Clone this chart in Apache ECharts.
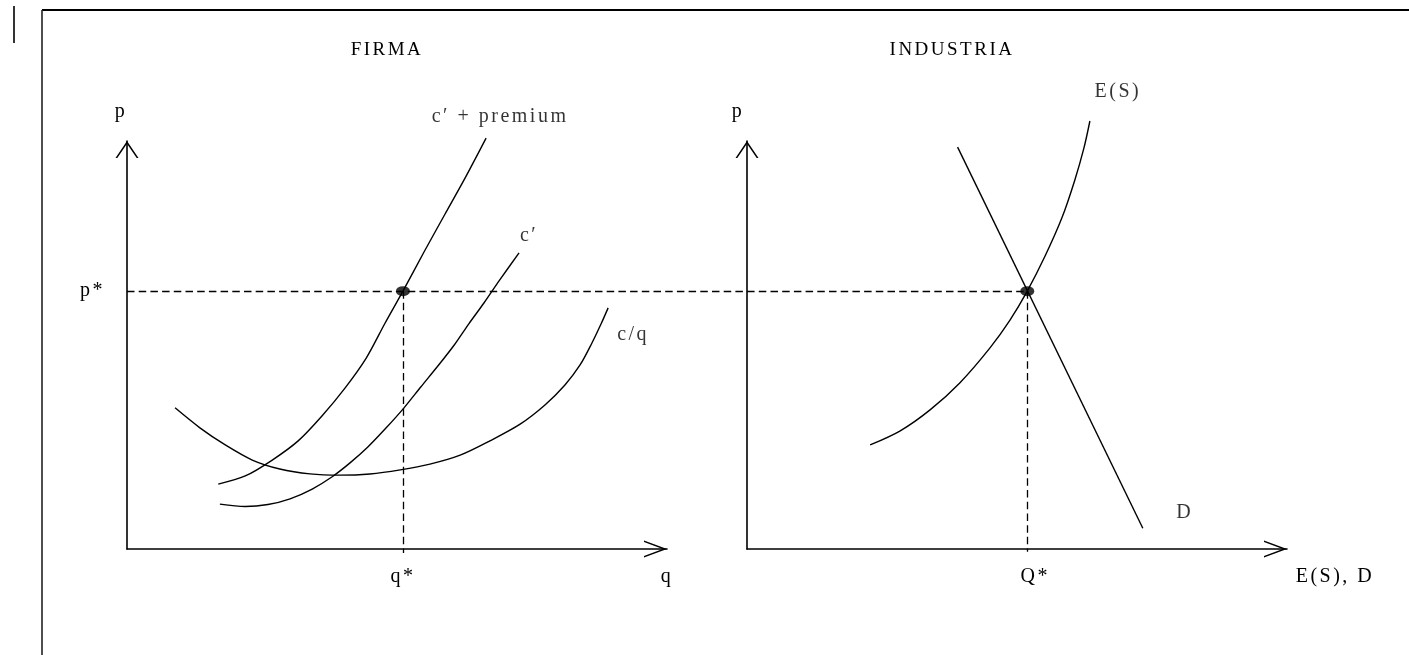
<!DOCTYPE html>
<html><head><meta charset="utf-8">
<script src="https://cdn.jsdelivr.net/npm/echarts@6/dist/echarts.min.js"></script>
<style>html,body{margin:0;padding:0;background:#fff}#c{width:1409px;height:655px}</style>
</head><body><div id="c"></div>
<script>
// ---- values (axis units 0..10) ----
const pStar = 6.32;   // equilibrium price
const qStar = 5.11;   // firm output
const QStar = 5.19;   // industry output
const axisMax = 10;

// FIRMA curves: [q, p]
const cPremium = [[1.69,1.59],[2.19,1.79],[2.69,2.18],[3.17,2.65],[3.61,3.26],[4.04,3.95],[4.43,4.68],[4.78,5.54],[5.11,6.32],[5.50,7.28],[5.89,8.21],[6.28,9.14],[6.65,10.07]];
const cPrime   = [[1.72,1.10],[2.19,1.04],[2.61,1.09],[3.02,1.23],[3.43,1.47],[3.80,1.77],[4.13,2.11],[4.46,2.50],[4.80,2.97],[5.13,3.46],[5.44,3.97],[5.76,4.49],[6.06,5.00],[6.33,5.52],[6.61,6.03],[6.89,6.57],[7.26,7.26]];
const cAvg     = [[0.89,3.46],[1.35,2.97],[1.82,2.55],[2.32,2.18],[2.83,1.96],[3.39,1.84],[3.94,1.81],[4.50,1.84],[5.06,1.94],[5.61,2.08],[6.17,2.30],[6.72,2.65],[7.28,3.06],[7.74,3.53],[8.11,4.02],[8.39,4.51],[8.61,5.05],[8.78,5.52],[8.91,5.91]];
// INDUSTRIA curves: [Q, p]
const supplyES = [[2.28,2.55],[2.83,2.89],[3.39,3.41],[3.94,4.07],[4.50,4.93],[4.87,5.61],[5.19,6.32],[5.52,7.18],[5.83,8.11],[6.07,9.04],[6.24,9.83],[6.35,10.49]];
const demandD  = [[3.90,9.85],[7.33,0.51]];

// texts
const panelTitles = ['FIRMA', 'INDUSTRIA'];
const curveNames = ['c\u2032 + premium', 'c\u2032', 'c/q', 'E(S)', 'D'];
const axisNames = { leftY: 'p', leftX: 'q', rightY: 'p', rightX: 'E(S), D' };
const starLabels = { p: 'p*', q: 'q*', Q: 'Q*' };

// ---- layout / styling ----
const GRID_LEFT = [127, 747];
const GRID_TOP = 141, GRID_W = 540, GRID_H = 408;
const FONT = '"Liberation Serif", "DejaVu Serif", serif';
const FS = 20;
const BLACK = '#000';
const DASH = [7.5, 4.2];
const arrowUp = 'path://M11.5,0 L23,17 L21.2,17 L11.5,2.7 L1.8,17 L0,17 Z';
const arrowRight = 'path://M8.5,0 L17,23 L15.4,23 L8.5,4.3 L1.6,23 L0,23 Z';

// the source typesetting is widely letter-spaced
(function () {
  const proto = CanvasRenderingContext2D.prototype;
  if (!('letterSpacing' in proto)) return;
  const orig = proto.fillText;
  proto.fillText = function () {
    const prev = this.letterSpacing;
    this.letterSpacing = '2.5px';
    const r = orig.apply(this, arguments);
    this.letterSpacing = prev;
    return r;
  };
})();

const chart = echarts.init(document.getElementById('c'), null, { renderer: 'canvas' });

function xAxis(gi, starVal, starTxt, endTxt) {
  return {
    type: 'value', gridIndex: gi, min: 0, max: axisMax,
    axisLine: { show: true, onZero: false, lineStyle: { color: BLACK, width: 1.6 },
      symbol: ['none', arrowRight], symbolSize: [17, 23], symbolOffset: [0, -11.5] },
    axisTick: { show: false }, splitLine: { show: false },
    axisLabel: { show: true, customValues: [starVal, axisMax],
      formatter: v => (v === axisMax ? endTxt : starTxt),
      margin: 18, fontFamily: FONT, fontSize: FS, color: BLACK,
      rich: {
        e: { fontFamily: FONT, fontSize: FS, color: BLACK, padding: [0, 0, 0, 96] },
        s: { fontFamily: FONT, fontSize: FS, color: BLACK, padding: [0, 0, 0, 16] }
      } }
  };
}
function yAxis(gi, name, val, txt, pad) {
  return {
    type: 'value', gridIndex: gi, min: 0, max: axisMax,
    name: name, nameLocation: 'end', nameGap: 29,
    nameTextStyle: { fontFamily: FONT, fontSize: FS, color: BLACK, align: 'center', verticalAlign: 'middle', padding: pad },
    axisLine: { show: true, onZero: false, lineStyle: { color: BLACK, width: 1.6 },
      symbol: ['none', arrowUp], symbolSize: [23, 17], symbolOffset: [0, -8.5] },
    axisTick: { show: false }, splitLine: { show: false },
    axisLabel: val == null ? { show: false } : { show: true, customValues: [val], formatter: () => txt,
      margin: 22, fontFamily: FONT, fontSize: FS, color: BLACK }
  };
}

function curve(gi, data, id) {
  return { id: id, type: 'line', xAxisIndex: gi, yAxisIndex: gi, data: data, showSymbol: false, symbol: 'none',
    smooth: 0.3, clip: false, silent: true,
    lineStyle: { color: BLACK, width: 1.4 }, z: 3 };
}
function guide(gi, from, to, id) {
  return { id: id, type: 'lines', coordinateSystem: 'cartesian2d', xAxisIndex: gi, yAxisIndex: gi,
    polyline: false, clip: false, silent: true, symbol: 'none', effect: { show: false },
    data: [{ coords: [from, to] }],
    lineStyle: { color: BLACK, width: 1.3, type: DASH, opacity: 1, curveness: 0 }, z: 2 };
}
function dot(gi, data) {
  return { type: 'scatter', xAxisIndex: gi, yAxisIndex: gi, data: data, symbol: 'circle', symbolSize: [14, 10],
    itemStyle: { color: BLACK }, silent: true, clip: false, z: 5 };
}
function tags(gi, items) {
  return { type: 'scatter', xAxisIndex: gi, yAxisIndex: gi, symbolSize: 1, silent: true, clip: false, z: 6,
    itemStyle: { color: 'rgba(0,0,0,0)' },
    data: items.map(it => ({ value: it.at, name: it.text, label: { offset: it.off } })),
    label: { show: true, position: 'inside', formatter: '{b}', fontFamily: FONT, fontSize: FS, color: BLACK,
      align: 'center', verticalAlign: 'middle' } };
}
const last = a => a[a.length - 1];

// the p* guide runs from the firm's price axis to the industry equilibrium;
// the industry Q* expressed on the firm's q scale (both panels share the same scale)
const QStarOnFirmScale = QStar + (GRID_LEFT[1] - GRID_LEFT[0]) / GRID_W * axisMax;

const option = {
  animation: false,
  backgroundColor: '#fff',
  title: [
    { text: panelTitles[0], left: 387, top: 41, textAlign: 'center', padding: 0,
      textStyle: { fontFamily: FONT, fontSize: 19, fontWeight: 'normal', color: BLACK } },
    { text: panelTitles[1], left: 952, top: 41, textAlign: 'center', padding: 0,
      textStyle: { fontFamily: FONT, fontSize: 19, fontWeight: 'normal', color: BLACK } }
  ],
  grid: GRID_LEFT.map(l => ({ left: l, top: GRID_TOP, width: GRID_W, height: GRID_H, outerBoundsMode: 'none', containLabel: false })),
  xAxis: [
    xAxis(0, qStar, starLabels.q, axisNames.leftX),
    xAxis(1, QStar, '{s|' + starLabels.Q + '}', '{e|' + axisNames.rightX + '}')
  ],
  yAxis: [
    yAxis(0, axisNames.leftY, pStar, starLabels.p, [0, 12, 0, 0]),
    yAxis(1, axisNames.rightY, null, null, [0, 18, 0, 0])
  ],
  graphic: [
    { type: 'line', shape: { x1: 42, y1: 10, x2: 1409, y2: 10 }, style: { stroke: BLACK, lineWidth: 2 }, silent: true },
    { type: 'line', shape: { x1: 42, y1: 10, x2: 42, y2: 655 }, style: { stroke: '#222', lineWidth: 1.6 }, silent: true },
    { type: 'line', shape: { x1: 14, y1: 6, x2: 14, y2: 43 }, style: { stroke: BLACK, lineWidth: 1.6 }, silent: true }
  ],
  series: [
    guide(0, [0, pStar], [QStarOnFirmScale, pStar], 'pGuide'),
    guide(0, [qStar, pStar], [qStar, -0.1], 'qGuide'),
    guide(1, [QStar, pStar], [QStar, -0.07], 'QGuide'),
    curve(0, cPremium, 'cPremium'),
    curve(0, cPrime, 'cPrime'),
    curve(0, cAvg, 'cAvg'),
    curve(1, supplyES, 'supply'),
    curve(1, demandD, 'demand'),
    dot(0, [[qStar, pStar]]),
    dot(1, [[QStar, pStar]]),
    tags(0, [
      { at: last(cPremium), text: curveNames[0], off: [14, -21] },
      { at: last(cPrime), text: curveNames[1], off: [10, -17] },
      { at: last(cAvg), text: curveNames[2], off: [25, 27] }
    ]),
    tags(1, [
      { at: last(supplyES), text: curveNames[3], off: [28, -29] },
      { at: last(demandD), text: curveNames[4], off: [42, -15] }
    ])
  ]
};
chart.setOption(option);
</script>
</body></html>
